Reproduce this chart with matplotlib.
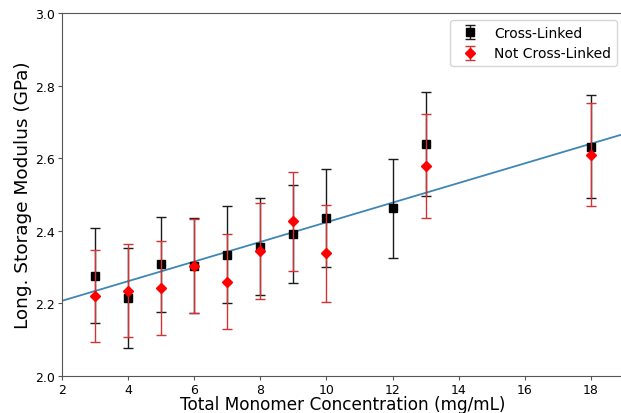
import matplotlib
matplotlib.use("Agg")
import matplotlib.pyplot as plt
import numpy as np

# concentrations (mg/mL)
conc = [3, 4, 5, 6, 7, 8, 9, 10, 12, 13, 18]
conc_nxl = [3, 4, 5, 6, 7, 8, 9, 10, 13, 18]

# cross-linked
xl_mod = [2.276, 2.215, 2.308, 2.304, 2.334, 2.356, 2.391, 2.434, 2.462, 2.639, 2.632]
xl_err = [0.131, 0.137, 0.131, 0.130, 0.133, 0.133, 0.134, 0.135, 0.137, 0.144, 0.143]

# not cross-linked
nxl_mod = [2.221, 2.235, 2.242, 2.303, 2.260, 2.344, 2.426, 2.338, 2.579, 2.610]
nxl_err = [0.127, 0.128, 0.129, 0.130, 0.131, 0.133, 0.137, 0.133, 0.143, 0.143]

# linear fit
fit_slope = 0.02705
fit_icpt = 2.153

fig = plt.figure(figsize=(6.21, 4.14), dpi=100)
# right edge sits just past the image, as in the (cropped) original
ax = fig.add_axes([62 / 621, 37 / 414, 562 / 621, 363 / 414])

xs = np.array([2.0, 19.0])
ax.plot(xs, fit_icpt + fit_slope * xs, color="#3f86b5", lw=1.3, zorder=1)

ax.errorbar(conc, xl_mod, yerr=xl_err, fmt="s", color="black", ecolor="#1a1a1a",
            markersize=5.8, capsize=3.8, elinewidth=1.0, capthick=1.0,
            label="Cross-Linked", zorder=2)
ax.errorbar(conc_nxl, nxl_mod, yerr=nxl_err, fmt="D", color="red", ecolor="#cf3535",
            markersize=5.2, capsize=3.8, elinewidth=1.0, capthick=1.0,
            label="Not Cross-Linked", zorder=3)

ax.set_xlim(2, 19)
ax.set_ylim(2.0, 3.0)
ax.set_xticks([2, 4, 6, 8, 10, 12, 14, 16, 18])
ax.set_yticks([2.0, 2.2, 2.4, 2.6, 2.8, 3.0])
ax.tick_params(labelsize=9, length=3, pad=2, color="#555555")
for sp in ax.spines.values():
    sp.set_color("#555555")
ax.set_xlabel("Total Monomer Concentration (mg/mL)", fontsize=12.2, labelpad=-1)
ax.set_ylabel("Long. Storage Modulus (GPa)", fontsize=13.3, labelpad=2)
ax.legend(loc="upper right", fontsize=10)

fig.savefig("out.png", dpi=100)
